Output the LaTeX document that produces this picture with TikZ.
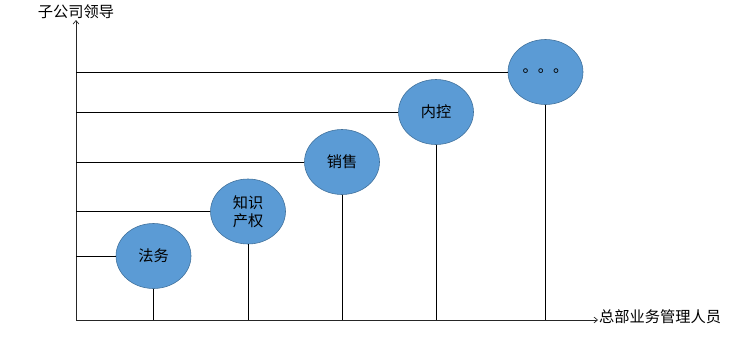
\documentclass[tikz,border=0pt]{standalone}
\usepackage{fontspec}
\setmainfont{Noto Sans CJK SC}
\usetikzlibrary{arrows.meta,shapes.geometric}
\definecolor{Bubble}{HTML}{5B9BD5}
\definecolor{BubbleEdge}{HTML}{41719C}

\tikzset{
  bubble/.style={ellipse,draw=BubbleEdge,line width=0.5pt,fill=Bubble,
    minimum width=2.25cm,minimum height=1.95cm,inner sep=0pt,
    align=center,font=\fontsize{13}{15}\selectfont},
  axis/.style={line width=0.6pt,draw=black!85,-{Straight Barb[length=3pt,width=5pt]}},
  guide/.style={line width=0.5pt,draw=black},
}

\begin{document}
\begin{tikzpicture}[x=0.03cm,y=-0.03cm]
  \useasboundingbox (0,0) rectangle (733,360);
  \coordinate (o) at (76,320);
  \coordinate (ytip) at (76,20);
  \coordinate (xtip) at (598,320);
  \draw[axis] (o) -- (ytip);
  \draw[axis] (o) -- (xtip);
  \node[font=\fontsize{13}{15}\selectfont] (ylab) at (76,12) {子公司领导};
  \node[font=\fontsize{13}{15}\selectfont,anchor=west,inner sep=0pt] (xlab) at (599,317) {总部业务管理人员};

  % bubbles
  \node[bubble] (fawu) at (153.5,256) {法务};
  \node[bubble] (zscq) at (248,211.5) {知识\\产权};
  \node[bubble] (xs) at (342,162) {销售};
  \node[bubble] (nk) at (436,112) {内控};
  \node[bubble] (more) at (545.5,72) {\raisebox{0.12em}{。。。}};

  % guides to axes
  \foreach \b in {fawu,zscq,xs,nk,more}{
    \draw[guide] (\b.west) -- (\b.west -| o);
    \draw[guide] (\b.south) -- (\b.south |- o);
  }
\end{tikzpicture}
\end{document}
